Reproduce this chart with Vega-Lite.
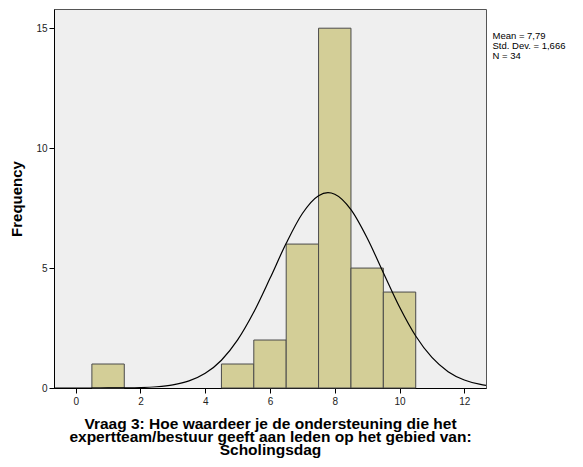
{
  "$schema": "https://vega.github.io/schema/vega-lite/v6.json",
  "autosize": {"type": "none"},
  "padding": {"left": 54, "top": 9, "right": 97, "bottom": 79},
  "width": 432,
  "height": 379,
  "background": "white",
  "view": {"fill": "#EFEFEF", "stroke": "#555555", "strokeWidth": 1},
  "title": {
    "text": "leden op het gebied van: Scholingsdag",
    "anchor": "middle",
    "frame": "group",
    "dx": 51,
    "offset": -2,
    "baseline": "bottom",
    "font": "Liberation Sans",
    "fontSize": 15,
    "fontWeight": "bold",
    "color": "#000000"
  },
  "config": {
    "axis": {
      "grid": false,
      "labelFont": "Liberation Sans",
      "labelFontSize": 10,
      "labelColor": "#222222",
      "titleFont": "Liberation Sans",
      "titleFontSize": 15,
      "titleFontWeight": "bold",
      "titleColor": "#000000",
      "domainColor": "#000000",
      "tickColor": "#000000",
      "tickSize": 5
    },
    "legend": {"labelFont": "Liberation Sans"}
  },
  "layer": [
    {
      "data": {"values": [
        {"bin_start": 0.5, "bin_end": 1.5, "count": 1},
        {"bin_start": 4.5, "bin_end": 5.5, "count": 1},
        {"bin_start": 5.5, "bin_end": 6.5, "count": 2},
        {"bin_start": 6.5, "bin_end": 7.5, "count": 6},
        {"bin_start": 7.5, "bin_end": 8.5, "count": 15},
        {"bin_start": 8.5, "bin_end": 9.5, "count": 5},
        {"bin_start": 9.5, "bin_end": 10.5, "count": 4}
      ]},
      "mark": {"type": "bar", "fill": "#D3CE97", "stroke": "#4a4a4a", "strokeWidth": 1},
      "encoding": {
        "x": {
          "field": "bin_start", "type": "quantitative",
          "scale": {"domain": [-0.67, 12.67], "nice": false, "zero": false},
          "axis": {
            "values": [0, 2, 4, 6, 8, 10, 12],
            "title": ["Vraag 3: Hoe waardeer je de ondersteuning die het", "expertteam/bestuur geeft aan leden op het gebied van:", "Scholingsdag"],
            "titleLineHeight": 13,
            "titleFontSize": 15.5,
            "titlePadding": 10,
            "labelPadding": 3
          }
        },
        "x2": {"field": "bin_end"},
        "y": {
          "field": "count", "type": "quantitative",
          "scale": {"domain": [0, 15.8], "nice": false},
          "axis": {"values": [0, 5, 10, 15], "title": "Frequency", "titlePadding": 11, "labelPadding": 2}
        },
        "y2": {"datum": 0}
      }
    },
    {
      "data": {"values": [
        {"x": -0.67, "y": 0.0},
        {"x": 0.5, "y": 0.0},
        {"x": 1.0, "y": 0.002},
        {"x": 1.5, "y": 0.0065},
        {"x": 2.0, "y": 0.019},
        {"x": 2.5, "y": 0.053},
        {"x": 3.0, "y": 0.131},
        {"x": 3.5, "y": 0.296},
        {"x": 4.0, "y": 0.612},
        {"x": 4.5, "y": 1.158},
        {"x": 5.0, "y": 2.004},
        {"x": 5.5, "y": 3.165},
        {"x": 6.0, "y": 4.571},
        {"x": 6.5, "y": 6.033},
        {"x": 7.0, "y": 7.276},
        {"x": 7.5, "y": 8.019},
        {"x": 7.79, "y": 8.141},
        {"x": 8.0, "y": 8.077},
        {"x": 8.5, "y": 7.435},
        {"x": 9.0, "y": 6.253},
        {"x": 9.5, "y": 4.807},
        {"x": 10.0, "y": 3.377},
        {"x": 10.5, "y": 2.168},
        {"x": 11.0, "y": 1.273},
        {"x": 11.5, "y": 0.682},
        {"x": 12.0, "y": 0.334},
        {"x": 12.5, "y": 0.150},
        {"x": 12.67, "y": 0.112}
      ]},
      "mark": {"type": "line", "color": "#000000", "strokeWidth": 1.2, "interpolate": "monotone", "clip": true},
      "encoding": {
        "x": {"field": "x", "type": "quantitative"},
        "y": {"field": "y", "type": "quantitative"}
      }
    },
    {
      "data": {"values": [
        {"stat": "Mean = 7,79"},
        {"stat": "Std. Dev. = 1,666"},
        {"stat": "N = 34"}
      ]},
      "mark": {"type": "point", "opacity": 0},
      "encoding": {
        "color": {
          "field": "stat", "type": "nominal", "sort": null,
          "scale": {"range": ["#000000", "#000000", "#000000"]},
          "legend": {
            "orient": "none",
            "legendX": 429,
            "legendY": 22,
            "title": null,
            "symbolSize": 0,
            "symbolOpacity": 0,
            "symbolStrokeWidth": 0,
            "labelOffset": 0,
            "labelFontSize": 9.5,
            "labelColor": "#000000",
            "rowPadding": -1,
            "padding": 0
          }
        }
      }
    }
  ]
}
